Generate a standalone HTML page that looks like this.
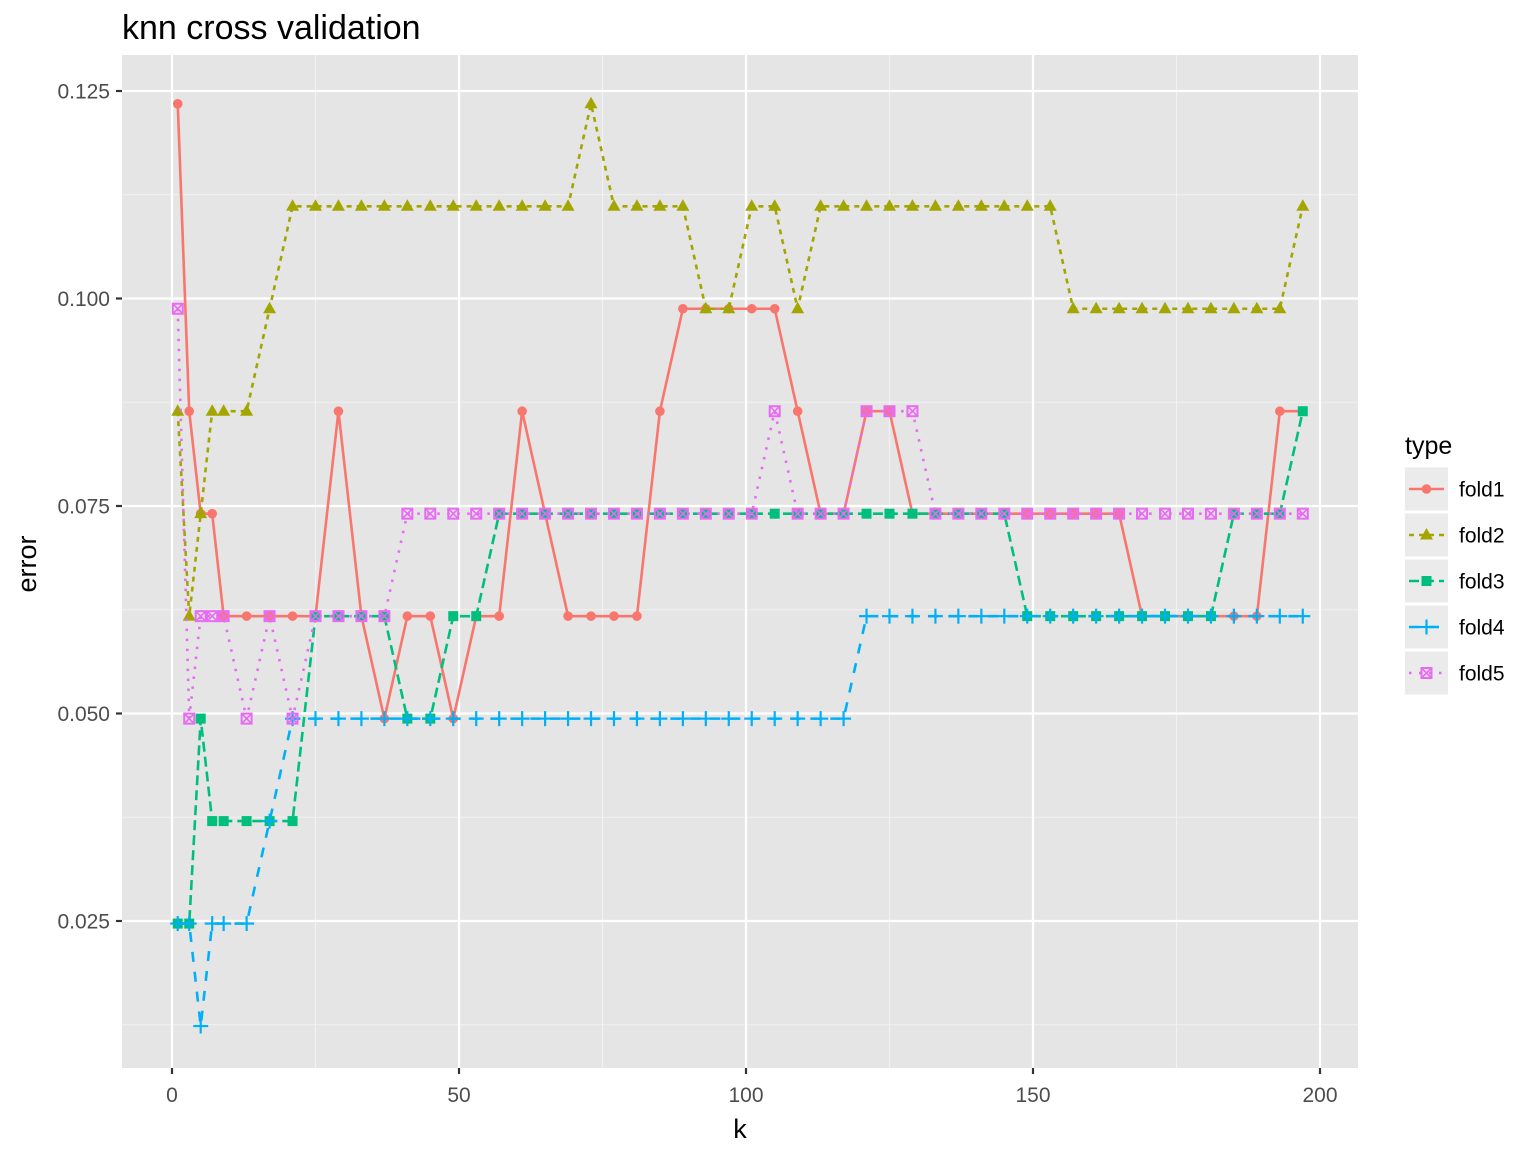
<!DOCTYPE html>
<html><head><meta charset="utf-8"><style>
body{margin:0;background:#fff;}
svg{display:block;font-family:"Liberation Sans",Arial,sans-serif;}
</style></head><body>
<svg id="chart" width="1536" height="1152" viewBox="0 0 1536 1152">
<rect width="1536" height="1152" fill="#fff"/>
<text x="122" y="39" font-size="34" fill="#000">knn cross validation</text>
<rect x="122" y="55" width="1236" height="1013" fill="#e5e5e5"/>
<g id="grid"></g><g id="series"></g><g id="axes"></g><g id="legend"></g>
<text x="740" y="1138" font-size="27" text-anchor="middle">k</text>
<text x="36" y="564" font-size="27" text-anchor="middle" transform="rotate(-90 36 564)">error</text>
</svg>
<script>
const kValues=[1,3,5,7,9,13,17,21,25,29,33,37,41,45,49,53,57,61,65,69,73,77,81,85,89,93,97,101,105,109,113,117,121,125,129,133,137,141,145,149,153,157,161,165,169,173,177,181,185,189,193,197];
// errors in units of 1/81
const fold1=[10,7,6,6,5,5,5,5,5,7,5,4,5,5,4,5,5,7,6,5,5,5,5,7,8,8,8,8,8,7,6,6,7,7,6,6,6,6,6,6,6,6,6,6,5,5,5,5,5,5,7,7];
const fold2=[7,5,6,7,7,7,8,9,9,9,9,9,9,9,9,9,9,9,9,9,10,9,9,9,9,8,8,9,9,8,9,9,9,9,9,9,9,9,9,9,9,8,8,8,8,8,8,8,8,8,8,9];
const fold3=[2,2,4,3,3,3,3,3,5,5,5,5,4,4,5,5,6,6,6,6,6,6,6,6,6,6,6,6,6,6,6,6,6,6,6,6,6,6,6,5,5,5,5,5,5,5,5,5,6,6,6,7];
const fold4=[2,2,1,2,2,2,3,4,4,4,4,4,4,4,4,4,4,4,4,4,4,4,4,4,4,4,4,4,4,4,4,4,5,5,5,5,5,5,5,5,5,5,5,5,5,5,5,5,5,5,5,5];
const fold5=[8,4,5,5,5,4,5,4,5,5,5,5,6,6,6,6,6,6,6,6,6,6,6,6,6,6,6,6,7,6,6,6,7,7,7,6,6,6,6,6,6,6,6,6,6,6,6,6,6,6,6,6];
const seriesNames=["fold1","fold2","fold3","fold4","fold5"];
const xTicks=[0,50,100,150,200];
const yTicks=[0.025,0.05,0.075,0.1,0.125];
const yTickLabels=["0.025","0.050","0.075","0.100","0.125"];

const NS="http://www.w3.org/2000/svg";
const sx=v=>172+v*5.74;
const sy=v=>921-(v-0.025)*8300;
function mk(tag,attrs,parent){const e=document.createElementNS(NS,tag);for(const k in attrs)e.setAttribute(k,attrs[k]);parent.appendChild(e);return e;}
const grid=document.getElementById('grid'),axes=document.getElementById('axes'),ser=document.getElementById('series'),leg=document.getElementById('legend');
for(let i=0;i<xTicks.length-1;i++){const e=mk('line',{x1:sx((xTicks[i]+xTicks[i+1])/2),x2:sx((xTicks[i]+xTicks[i+1])/2),y1:55,y2:1068,stroke:'#f2f2f2','stroke-width':1.1},grid);}
const yMinor=[0.0125,0.0375,0.0625,0.0875,0.1125];
for(const v of yMinor){const e=mk('line',{x1:122,x2:1358,y1:sy(v),y2:sy(v),stroke:'#f2f2f2','stroke-width':1.1},grid);}
xTicks.forEach(t=>{const e=mk('line',{x1:sx(t),x2:sx(t),y1:55,y2:1068,stroke:'#fff','stroke-width':2.2},grid);
 mk('line',{x1:sx(t),x2:sx(t),y1:1068,y2:1074,stroke:'#333','stroke-width':2.2},axes);
 const l=mk('text',{x:sx(t),y:1102,'font-size':21,fill:'#4d4d4d','text-anchor':'middle'},axes);l.textContent=t;});
yTicks.forEach((t,i)=>{const e=mk('line',{x1:122,x2:1358,y1:sy(t),y2:sy(t),stroke:'#fff','stroke-width':2.2},grid);
 mk('line',{x1:116,x2:122,y1:sy(t),y2:sy(t),stroke:'#333','stroke-width':2.2},axes);
 const l=mk('text',{x:110,y:sy(t)+7.5,'font-size':21,fill:'#4d4d4d','text-anchor':'end'},axes);l.textContent=yTickLabels[i];});

const colors=["#F8766D","#A3A500","#00BF7D","#00B0F6","#E76BF3"];
const dashes=["none","5,5","10,5","10,10","2.5,7.5"];
const data=[fold1,fold2,fold3,fold4,fold5];
function marker(type,x,y,c,g){
 if(type===0)mk('circle',{cx:x,cy:y,r:4.8,fill:c},g);
 else if(type===1)mk('polygon',{points:`${x},${y-7} ${x-6.5},${y+4.5} ${x+6.5},${y+4.5}`,fill:c},g);
 else if(type===2)mk('rect',{x:x-5,y:y-5,width:10,height:10,fill:c},g);
 else if(type===3){mk('line',{x1:x-7.5,x2:x+7.5,y1:y,y2:y,stroke:c,'stroke-width':2.2},g);mk('line',{x1:x,x2:x,y1:y-7.5,y2:y+7.5,stroke:c,'stroke-width':2.2},g);}
 else{mk('rect',{x:x-5,y:y-5,width:10,height:10,fill:'none',stroke:c,'stroke-width':2},g);mk('path',{d:`M${x-5},${y-5}L${x+5},${y+5}M${x+5},${y-5}L${x-5},${y+5}`,stroke:c,'stroke-width':1.6},g);}
}
data.forEach((arr,si)=>{
 const g=mk('g',{},ser);
 const pts=arr.map((v,i)=>sx(kValues[i])+','+sy(v/81)).join(' ');
 const pl=mk('polyline',{points:pts,fill:'none',stroke:colors[si],'stroke-width':2.6,'stroke-dasharray':dashes[si]},g);
 
 arr.forEach((v,i)=>marker(si,sx(kValues[i]),sy(v/81),colors[si],g));
});
const lt=mk('text',{x:1405,y:454,'font-size':25},leg);lt.textContent='type';
seriesNames.forEach((n,i)=>{
 const cy=489+46*i;
 const g=mk('g',{},leg);
 mk('rect',{x:1405,y:cy-21.5,width:43,height:43,fill:'#ebebeb'},g);
 mk('line',{x1:1409,x2:1444,y1:cy,y2:cy,stroke:colors[i],'stroke-width':2.6,'stroke-dasharray':dashes[i]},g);
 marker(i,1426.5,cy,colors[i],g);
 const t=mk('text',{x:1459,y:cy+7.5,'font-size':21},g);t.textContent=n;
});
</script>
</body></html>
